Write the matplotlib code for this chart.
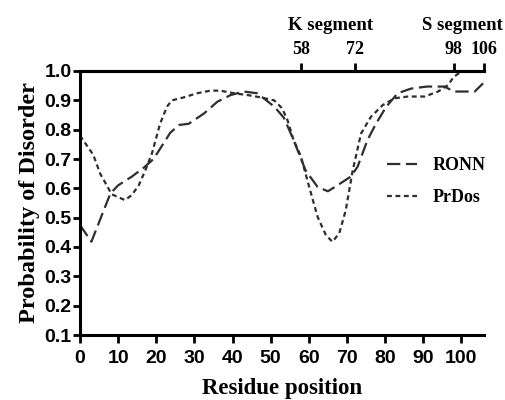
import numpy as np
from matplotlib import pyplot as plt

# RONN prediction
ronn_x = [0, 3, 8, 10, 13.6, 16.7, 19.3, 23.7, 26, 28.5, 32.5, 36, 39.5, 43, 46.5,
          51, 53.5, 56, 59.2, 62.3, 65, 67.5, 71, 72.8, 75.4, 77.6, 80.3, 83.3,
          86.8, 91, 95.6, 98, 101, 103.5, 105.7]
ronn_y = [0.475, 0.418, 0.583, 0.61, 0.64, 0.67, 0.70, 0.79, 0.816, 0.82, 0.855,
          0.895, 0.918, 0.93, 0.924, 0.878, 0.84, 0.765, 0.66, 0.605, 0.59, 0.61,
          0.64, 0.674, 0.765, 0.82, 0.878, 0.924, 0.94, 0.947, 0.947, 0.93, 0.93,
          0.93, 0.958]

# PrDos prediction
prdos_x = [0, 3.5, 5.3, 6.6, 8.3, 10, 11.8, 13.6, 15.4, 17.1, 18.9, 21, 22.8, 24.1,
           27.2, 30.7, 34.2, 36.8, 40.4, 43.9, 47.4, 50.9, 53, 54.4, 56, 57.9, 60.1,
           62.3, 64.5, 66.2, 68, 69.7, 71.5, 73.7, 76.3, 79.4, 82.5, 86, 90.4, 93.9,
           96.5, 98, 100]
prdos_y = [0.78, 0.714, 0.65, 0.62, 0.58, 0.57, 0.56, 0.577, 0.61, 0.66, 0.72, 0.82,
           0.878, 0.90, 0.91, 0.924, 0.933, 0.933, 0.924, 0.918, 0.91, 0.90, 0.873,
           0.833, 0.765, 0.71, 0.605, 0.503, 0.44, 0.418, 0.447, 0.526, 0.66, 0.787,
           0.844, 0.884, 0.907, 0.913, 0.913, 0.93, 0.952, 0.98, 0.998]

top_ticks = [58, 72, 98, 106]
segments = [("K segment", 65.6), ("S segment", 100.3)]

serif = 'Liberation Serif'
sans = 'Liberation Sans'
lc = '#2e2e2e'

fig = plt.figure(figsize=(5.06, 4.0), dpi=100)
ax = fig.add_axes([0.158, 0.1625, 0.799, 0.66])

ax.plot(ronn_x, ronn_y, color=lc, lw=1.6, dashes=(6, 2.5), label='RONN')
ax.plot(prdos_x, prdos_y, color=lc, lw=1.6, dashes=(2.2, 1.6), label='PrDos')

ax.set_xlim(0, 106)
ax.set_ylim(0.1, 1.0)
ax.set_xticks(np.arange(0, 101, 10))
yt = np.round(np.arange(0.1, 1.01, 0.1), 1)
ax.set_yticks(yt)
ax.set_yticklabels([f'{v:.1f}' for v in yt])

for s in ['left', 'bottom', 'top']:
    ax.spines[s].set_linewidth(2.2)
ax.spines['right'].set_visible(False)
ax.tick_params(axis='x', direction='out', length=6, width=2, labelsize=14, pad=5)
ax.tick_params(axis='y', direction='out', length=5, width=2, labelsize=14, pad=1)
for lab in ax.get_xticklabels() + ax.get_yticklabels():
    lab.set_fontfamily(sans)
    lab.set_fontweight('bold')

ax.set_xlabel('Residue position', fontfamily=serif, fontweight='bold', fontsize=16.5, labelpad=8)
ax.set_ylabel('Probability of Disorder', fontfamily=serif, fontweight='bold', fontsize=17.5, labelpad=3)

# top axis with segment boundaries
top = ax.secondary_xaxis('top')
top.set_xticks(top_ticks)
top.set_xticklabels([str(t) for t in top_ticks])
top.tick_params(direction='out', length=6, width=2, labelsize=13, pad=3)
top.spines['top'].set_linewidth(2.2)
for lab in top.get_xticklabels():
    lab.set_fontfamily(serif)
    lab.set_fontweight('bold')
for name, xc in segments:
    ax.text(xc, 1.174, name, transform=ax.get_xaxis_transform(), ha='center', va='center',
            fontfamily=serif, fontweight='bold', fontsize=13.5)

leg = ax.legend(loc='center left', bbox_to_anchor=(0.76, 0.581), frameon=False,
                borderaxespad=0, borderpad=0, handlelength=1.67, handletextpad=0.83,
                prop={'family': serif, 'weight': 'bold', 'size': 13},
                labelspacing=0.8)

fig.savefig('out.png', dpi=100)
